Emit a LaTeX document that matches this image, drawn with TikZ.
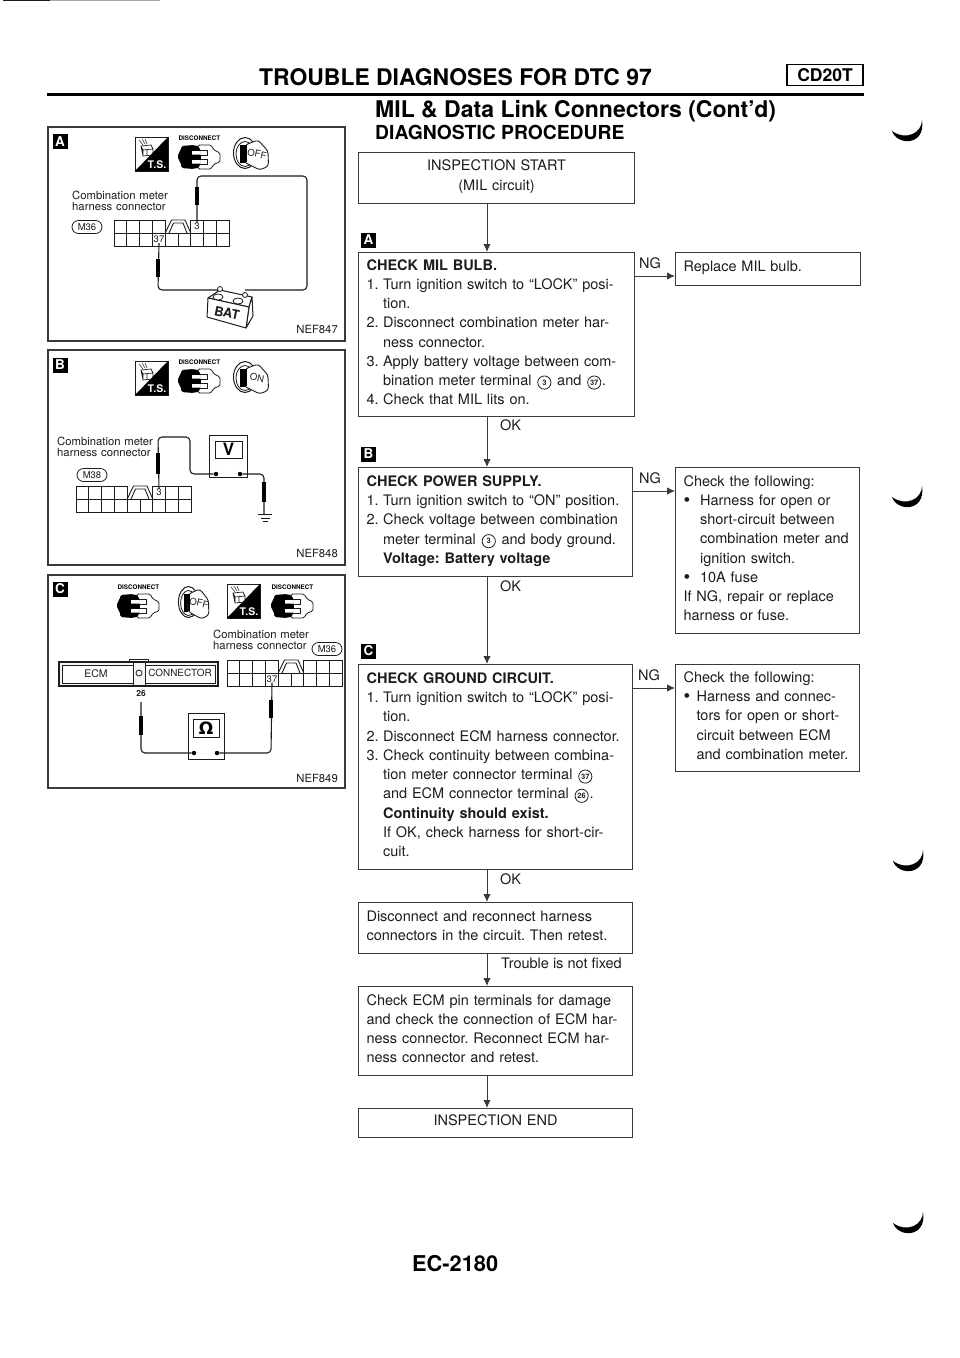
\documentclass[tikz,border=0pt]{standalone}
\usepackage{fontspec}
\setmainfont{TeX Gyre Heros}
\newfontfamily\djfont{DejaVu Sans}
\usetikzlibrary{arrows.meta,positioning,calc}
\definecolor{ink}{HTML}{1C1C1C}
\definecolor{soft}{HTML}{3A3A3A}
\newcommand{\fs}[1]{\fontsize{#1}{#1}\selectfont}
\newcommand{\bodyfont}{\fontsize{14.5}{19.25}\selectfont\frenchspacing}
\newcommand{\dn}[1]{\rule[-#1pt]{0pt}{#1pt}}
\newcommand{\ringmark}{\begin{pgfpicture}\pgfsetlinewidth{.8pt}\pgfpathcircle{\pgfpointorigin}{6.6pt}\pgfusepath{stroke}\end{pgfpicture}}
\newcommand{\cn}[1]{\makebox[16pt][c]{\smash{\raisebox{-4pt}{\ringmark}}}\hspace{-16pt}\makebox[16pt][c]{\raisebox{0.3pt}{\fontsize{7.5}{7.5}\selectfont\bfseries #1}}}
\newcommand{\num}[1]{\makebox[16.5pt][l]{#1}}
\newcommand{\hang}{\hspace*{16.5pt}}
\newcommand{\bigdot}{\smash{\raisebox{-1.2pt}{\fontsize{19}{19}\selectfont\textbullet}}}
\tikzset{
  x=1pt,y=-1pt,
  box/.style={draw=soft,line width=1.1pt,anchor=north west,inner xsep=8pt,inner ysep=0pt,align=left,font=\bodyfont,text=ink},
  cbox/.style={box,align=center},
  flow/.style={draw=soft,line width=1pt,-{Latex[length=8pt,width=7.5pt]}},
  lab/.style={font=\bodyfont,text=ink,inner sep=0pt},
  panel/.style={draw=soft,line width=1.1pt},
  badge/.style={fill=black,text=white,font=\fs{13.5}\bfseries,minimum size=15pt,inner sep=0pt},
  captext/.style={font=\fs{11.3},text=ink,inner sep=0pt,align=left},
  oval/.style={draw=ink,line width=.8pt,rounded corners=6.5pt,font=\fs{9.5},text=ink,minimum width=30pt,minimum height=13pt,inner sep=0pt},
  wire/.style={draw=ink,line width=1.1pt,rounded corners=4pt},
  probe/.style={draw=black,line width=4.5pt},
  dotn/.style={circle,fill=black,minimum size=4.5pt,inner sep=0pt},
  meter/.style={draw=ink,line width=.9pt,fill=white,inner sep=0pt},
  cell/.style={font=\fs{9.5},text=ink,inner sep=0pt},
  pics/tsicon/.style={code={
    \draw[ink,line width=.6pt] (0,0) rectangle (33,34);
    \fill[black] (0,34) -- (33,0) -- (33,34) -- cycle;
    \node[font=\fs{10.5}\bfseries,text=white,inner sep=0pt] (lbl) at (22,27.5) {T.S.};
    \draw[ink,line width=.7pt] (6,9) -- (16,8) -- (18,12) -- (18,18) -- (8,19) -- cycle (6,9) -- (8,13) -- (18,12) (8,13) -- (8,19) (12,13) -- (12,18);
    \draw[ink,line width=.5pt] (4,3) -- (8,8) (7,2) -- (10,7) (10,2) -- (12,7);
  }},
  pics/discicon/.style={code={
    \node[font=\fs{6.3}\bfseries,text=black,inner sep=0pt] (lbl) at (21.5,0) {DISCONNECT};
    \draw[ink,line width=.8pt,fill=white,rounded corners=1.5pt] (20,7) -- (33,7) -- (36,12) -- (42,15) -- (42,24) -- (36,26) -- (33,31) -- (20,31) -- cycle;
    \draw[ink,line width=.8pt,fill=white] (17,12) rectangle (29,17) (17,21) rectangle (29,26);
    \fill[black,rounded corners=2pt] (3,8) -- (16,7) -- (22,9) -- (22,29) -- (16,31) -- (3,30) -- (3,24) -- (0,22) -- (0,15) -- (3,13) -- cycle;
    \fill[white] (14,13) rectangle (22,16.5) (14,22) rectangle (22,25.5);
    \fill[black] (16,17) rectangle (23,21);
  }},
  pics/keyicon/.style={code={
    \draw[ink,line width=1pt,fill=white] (12,16) ellipse (11.5 and 15.5);
    \draw[ink,line width=.8pt] (12,17) ellipse (9 and 12.5);
    \fill[black] (6.5,8) rectangle (12,26);
    \draw[ink,line width=.9pt,fill=white,rounded corners=3pt] (12,8) -- (25,3) -- (35,14) -- (35.5,29) -- (27,33) -- (11,25) -- cycle;
    \fill[black] (11,8) rectangle (13.5,25);
    \node[font=\fs{9.5},text=ink,inner sep=0pt,rotate=-12] (lbl) at (24,17) {#1};
  }},
  pics/connicon/.style={code={
    \draw[ink,line width=.9pt] (0,13) rectangle (115.2,26);
    \foreach \k in {1,...,8} {\draw[ink,line width=.9pt] (12.8*\k,13) -- (12.8*\k,26);}
    \draw[ink,line width=.9pt] (0,13) -- (0,0) -- (51.2,0) -- (51.2,13) (12.8,0) -- (12.8,13) (25.6,0) -- (25.6,13) (38.4,0) -- (38.4,13);
    \draw[ink,line width=.9pt] (76.8,13) -- (76.8,0) -- (115.2,0) -- (115.2,13) (89.6,0) -- (89.6,13) (102.4,0) -- (102.4,13);
    \draw[ink,line width=.9pt] (51.2,13) -- (57.5,0) -- (71,0) -- (76.8,13) (55,13) -- (59.5,3) -- (69,3) -- (73,13);
  }},
}
\begin{document}
\begin{tikzpicture}
\useasboundingbox (0,0) rectangle (960,1358);
% scan rule at the page edge
\draw[ink,line width=1.2pt] (3,.5) -- (50,.5);
\draw[gray!70,line width=1pt] (50,.5) -- (160,.5);
% headings
\node[font=\fs{22.9}\bfseries,text=black,inner sep=0pt,anchor=base west] (title) at (259,85) {TROUBLE DIAGNOSES FOR DTC 97};
\node[draw=black,line width=1.3pt,font=\fs{17.5}\bfseries,text=black,minimum width=76pt,minimum height=20.5pt,inner sep=0pt] (engine) at (825,75) {CD20T};
\draw[black,line width=3pt] (47,94.5) -- (864,94.5);
\node[font=\fs{23}\bfseries,text=black,inner sep=0pt,anchor=base west] (mainh) at (375,117) {MIL \& Data Link Connectors (Cont’d)};
\node[font=\fs{19.3}\bfseries,text=black,inner sep=0pt,anchor=base west] (subh) at (375,139.5) {DIAGNOSTIC PROCEDURE};
% ---------- flow chart
\coordinate (axis) at (487,0);
\node[cbox,minimum height=51pt,text width=260pt] (start) at (358,152) {INSPECTION START\\(MIL circuit)\dn{6}};
\node[box,minimum height=164pt,text width=260pt] (mil) at (358,252) {\textbf{CHECK MIL BULB.}\\
\num{1.}Turn ignition switch to “LOCK” posi-\\\hang tion.\\
\num{2.}Disconnect combination meter har-\\\hang ness connector.\\
\num{3.}Apply battery voltage between com-\\\hang bination meter terminal \cn{3} and \cn{37}.\\
\num{4.}Check that MIL lits on.\dn{5}};
\node[box,minimum height=33pt,text width=169pt] (rep) at (675,252) {Replace MIL bulb.\dn{5}};
\node[box,minimum height=109pt,text width=258pt] (pow) at (358,467) {\textbf{CHECK POWER SUPPLY.}\\
\num{1.}Turn ignition switch to “ON” position.\\
\num{2.}Check voltage between combination\\
\hang meter terminal \cn{3} and body ground.\\
\hang\textbf{Voltage: Battery voltage}\dn{5}};
\node[box,minimum height=166pt,text width=168pt] (chka) at (675,467) {Check the following:\\
\num{\bigdot}Harness for open or\\\hang short-circuit between\\\hang combination meter and\\\hang ignition switch.\\
\num{\bigdot}10A fuse\\
If NG, repair or replace\\harness or fuse.\dn{5}};
\node[box,minimum height=205pt,text width=258pt] (gnd) at (358,664) {\textbf{CHECK GROUND CIRCUIT.}\\
\num{1.}Turn ignition switch to “LOCK” posi-\\\hang tion.\\
\num{2.}Disconnect ECM harness connector.\\
\num{3.}Check continuity between combina-\\
\hang tion meter connector terminal \cn{37}\\
\hang and ECM connector terminal \cn{26}.\\
\hang\textbf{Continuity should exist.}\\
\hang If OK, check harness for short-cir-\\\hang cuit.\dn{5}};
\node[box,minimum height=107pt,text width=168pt] (chkb) at (675,664) {Check the following:\\
\makebox[13pt][l]{\bigdot}Harness and connec-\\
\hspace*{13pt}tors for open or short-\\
\hspace*{13pt}circuit between ECM\\
\hspace*{13pt}and combination meter.\dn{5}};
\node[box,minimum height=51pt,text width=258pt] (dis) at (358,902) {Disconnect and reconnect harness\\connectors in the circuit. Then retest.\dn{5}};
\node[box,minimum height=89pt,text width=258pt] (pin) at (358,986) {Check ECM pin terminals for damage\\and check the connection of ECM har-\\ness connector. Reconnect ECM har-\\ness connector and retest.\dn{5}};
\node[cbox,minimum height=29pt,text width=258pt] (finish) at (358,1108) {INSPECTION END\dn{5}};
\node[badge] (ba) at (368.5,240) {A};
\node[badge] (bb) at (368.5,454) {B};
\node[badge] (bc) at (368.5,651) {C};
\draw[flow] (start.south -| axis) -- (mil.north -| axis);
\draw[flow] (mil.south -| axis) -- (pow.north -| axis);
\draw[flow] (pow.south -| axis) -- (gnd.north -| axis);
\draw[flow] (gnd.south -| axis) -- (dis.north -| axis);
\draw[flow] (dis.south -| axis) -- (pin.north -| axis);
\draw[flow] (pin.south -| axis) -- (finish.north -| axis);
\coordinate (ng1) at (0,276);\coordinate (ng2) at (0,491);\coordinate (ng3) at (0,688);
\draw[flow] (mil.east |- ng1) -- (rep.west |- ng1);
\draw[flow] (pow.east |- ng2) -- (chka.west |- ng2);
\draw[flow] (gnd.east |- ng3) -- (chkb.west |- ng3);
\node[lab,anchor=west] (nga) at (639,263) {NG};
\node[lab,anchor=west] (ngb) at (639,478) {NG};
\node[lab,anchor=west] (ngc) at (638,675) {NG};
\node[lab,anchor=west] (oka) at (500,425) {OK};
\node[lab,anchor=west] (okb) at (500,586) {OK};
\node[lab,anchor=west] (okc) at (500,879) {OK};
\node[lab,anchor=west] (tnf) at (501,963) {Trouble is not fixed};
\node[font=\fs{21.8}\bfseries,text=black,inner sep=0pt,anchor=base west] (pageno) at (412,1271.5) {EC-2180};
% ---------- margin ticks
\foreach \tx/\ty in {892/120,892/486,893/850,893/1212}{
  \fill[black] (\tx,\ty+11) .. controls (\tx+5,\ty+26) and (\tx+34,\ty+26) .. (\tx+30,\ty) .. controls (\tx+30,\ty+13) and (\tx+14,\ty+21) .. (\tx,\ty+11) -- cycle;
}
% ---------- panel A
\draw[panel] (48,127) rectangle (345,341);
\node[badge] (pa) at (60,141.5) {A};
\pic (ats) at (135,137) {tsicon};
\pic (adc) at (178,138) {discicon};
\pic (aky) at (233,137) {keyicon=OFF};
\node[captext,anchor=north west,text width=110pt] (act) at (72,191) {\setlength{\baselineskip}{12.6pt}Combination meter\\harness connector};
\node[oval] (am) at (87,227) {M36};
\pic (acn) at (114,220) {connicon};
\node[cell] (a3) at (197,226.5) {3};
\node[cell] (a37) at (159,239.5) {37};
\draw[wire] (a3.north) -- (197,176) -- (307,176) -- (307,290) -- (245,290);
\draw[wire] (a37.south) -- (158,290) -- (218,290);
\draw[probe] (197,187) -- (197,205);
\draw[probe] (158,259) -- (158,277);
% battery
\draw[ink,line width=1pt,fill=white,line join=round] (208,298) -- (220,290) -- (252,297) -- (249,307) -- cycle;
\draw[ink,line width=1pt,fill=white,line join=round] (249,307) -- (252,297) -- (253,316) -- (246,328) -- cycle;
\draw[ink,line width=1pt,fill=white,line join=round] (208,298) -- (249,307) -- (246,328) -- (207,317) -- cycle;
\draw[ink,line width=.8pt,fill=white] (218,297) ellipse (5 and 3) (238,301) ellipse (5 and 3);
\draw[ink,line width=.8pt,fill=white] (220,289) circle (2.5) (245,295) circle (2.5);
\node[font=\fs{13}\bfseries,text=ink,inner sep=0pt,rotate=-12] (abat) at (227,313) {BAT};
\node[captext,anchor=east] (anef) at (338,329) {NEF847};
% ---------- panel B
\draw[panel] (48,350) rectangle (345,565);
\node[badge] (pb) at (60,365) {B};
\pic (bts) at (135,361) {tsicon};
\pic (bdc) at (178,362) {discicon};
\pic (bky) at (233,361) {keyicon=ON};
\node[captext,anchor=north west,text width=110pt] (bct) at (57,437) {\setlength{\baselineskip}{12.6pt}Combination meter\\harness connector};
\node[oval] (bm) at (92,475) {M38};
\pic (bcn) at (76,486) {connicon};
\node[cell] (b3) at (159,492.5) {3};
\node[meter,minimum width=38pt,minimum height=42pt] (bmt) at (228,456) {};
\node[meter,font=\fs{17}\bfseries,minimum width=27pt,minimum height=17pt] (bv) at (228.5,449.5) {V};
\node[dotn] (bd1) at (216,474) {};
\node[dotn] (bd2) at (240,474) {};
\draw[wire] (b3.north) -- (158,437) -- (190,437) -- (190,474) -- (bd1);
\draw[wire] (bd2) -- (264,474) -- (264,514);
\draw[probe] (158,453) -- (158,474);
\draw[probe] (264,482) -- (264,502);
\draw[ink,line width=1pt] (258,514) -- (272,514) (260.5,518) -- (269.5,518) (262.5,521.5) -- (267.5,521.5);
\node[captext,anchor=east] (bnef) at (338,553) {NEF848};
% ---------- panel C
\draw[panel] (48,575) rectangle (345,788);
\node[badge] (pc) at (60,589) {C};
\pic (cd1) at (117,587) {discicon};
\pic[xscale=.87] (cky) at (178,586) {keyicon=OFF};
\pic (cts) at (227,584) {tsicon};
\pic (cd2) at (271,587) {discicon};
\node[captext,anchor=north west,text width=110pt] (cct) at (213,630) {\setlength{\baselineskip}{12.6pt}Combination meter\\harness connector};
\node[oval] (cm) at (327,649) {M36};
% ECM connector
\draw[ink,line width=1pt] (129,662) -- (129,659) -- (148,659) -- (148,662);
\draw[ink,line width=1.1pt,fill=gray!8] (59,662) rectangle (218,686);
\draw[ink,line width=.7pt,fill=white] (62,665) rectangle (133,683) (145,665) rectangle (215,683);
\draw[ink,line width=.7pt] (133,663) -- (133,685) (145,663) -- (145,685);
\draw[ink,line width=.8pt] (139,673) circle (3);
\node[font=\fs{10.5},text=ink,inner sep=0pt] (cecm) at (96,674) {ECM};
\node[font=\fs{9.9},text=ink,inner sep=0pt] (ccon) at (180,673) {CONNECTOR};
\node[font=\fs{8.5}\bfseries,text=ink,inner sep=0pt] (c26) at (141,693) {26};
\pic (ccn) at (227,660) {connicon};
\node[cell] (c37) at (272,679) {37};
\node[meter,minimum width=36pt,minimum height=46pt] (cmt) at (206,736) {};
\node[meter,font=\fs{17}\bfseries,minimum width=26pt,minimum height=18pt] (cw) at (206,728) {\djfont Ω};
\node[dotn] (cd3) at (194,753) {};
\node[dotn] (cd4) at (217,753) {};
\draw[wire] (c26.south |- 0,702) -- (141,753) -- (cd3);
\draw[wire] (c37.south) -- (271,753) -- (cd4);
\draw[probe] (141,716) -- (141,735);
\draw[probe] (271,700) -- (271,718);
\node[captext,anchor=east] (cnef) at (338,778) {NEF849};
\end{tikzpicture}
\end{document}
